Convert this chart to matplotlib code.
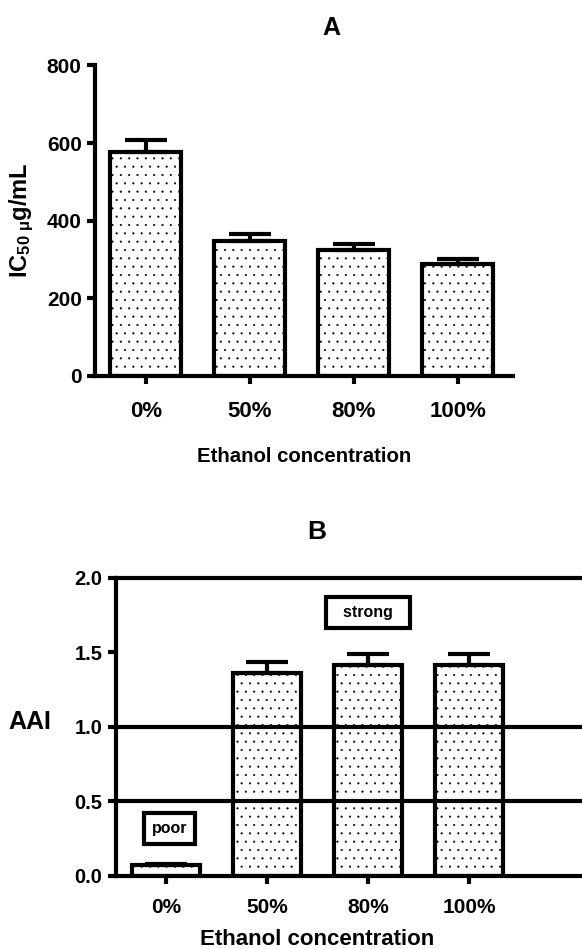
import matplotlib
matplotlib.use("Agg")
import matplotlib.pyplot as plt

plt.rcParams['font.family'] = ['Liberation Sans', 'DejaVu Sans']
plt.rcParams['font.weight'] = 'bold'
plt.rcParams['mathtext.fontset'] = 'custom'
plt.rcParams['mathtext.rm'] = 'Liberation Sans:bold'
plt.rcParams['mathtext.it'] = 'Liberation Sans:bold'
plt.rcParams['mathtext.bf'] = 'Liberation Sans:bold'
plt.rcParams['hatch.linewidth'] = 0.3

# data
categories = ['0%', '50%', '80%', '100%']
ic50 = [578, 347, 325, 287]
ic50_err = [30, 18, 15, 14]
aai = [0.075, 1.362, 1.416, 1.416]
aai_err = [0.006, 0.074, 0.074, 0.074]
ic50_ticks = [0, 200, 400, 600, 800]
aai_ticks = [0.0, 0.5, 1.0, 1.5, 2.0]
aai_lines = [0.5, 1.0, 2.0]

lw = 3
fig = plt.figure(figsize=(5.82, 9.49), dpi=100)
x = list(range(len(categories)))


def style_axis(ax):
    for s in ['top', 'right']:
        ax.spines[s].set_visible(False)
    for s in ['left', 'bottom']:
        ax.spines[s].set_linewidth(lw)
    ax.tick_params(direction='out', length=6, width=lw)


# ---- panel A ----
axA = fig.add_axes([0.163, 0.604, 0.718, 0.327])
axA.bar(x, ic50, width=0.68, color='white', edgecolor='black',
        linewidth=lw, hatch='..', zorder=2)
axA.errorbar(x, ic50, yerr=[[0] * 4, ic50_err], fmt='none', ecolor='black',
             elinewidth=lw, capsize=15, capthick=lw, zorder=3)
axA.set_xlim(-0.49, 3.53)
axA.set_ylim(0, 800)
axA.set_yticks(ic50_ticks)
axA.set_xticks(x)
axA.set_xticklabels(categories, fontsize=16, fontweight='bold')
axA.tick_params(axis='y', labelsize=15)
axA.tick_params(axis='x', pad=12)
style_axis(axA)
axA.set_title('A', fontsize=18, fontweight='bold', pad=22, x=0.565)
axA.set_xlabel('Ethanol concentration', fontsize=14.7, fontweight='bold', labelpad=18)
axA.set_ylabel(r'IC$_{50\ \mu}$g/mL', fontsize=17, fontweight='bold', labelpad=8)

# ---- panel B ----
axB = fig.add_axes([0.199, 0.077, 0.801, 0.314])
axB.bar(x, aai, width=0.67, color='white', edgecolor='black',
        linewidth=lw, hatch='..', zorder=2)
axB.errorbar(x, aai, yerr=[[0] * 4, aai_err], fmt='none', ecolor='black',
             elinewidth=lw, capsize=15, capthick=lw, zorder=3)
for yv in aai_lines:
    axB.axhline(yv, color='black', linewidth=lw, zorder=4, clip_on=False)
axB.set_xlim(-0.5, 4.12)
axB.set_ylim(0, 2.0)
axB.set_yticks(aai_ticks)
axB.set_yticklabels(['%.1f' % t for t in aai_ticks])
axB.set_xticks(x)
axB.set_xticklabels(categories, fontsize=15, fontweight='bold')
axB.tick_params(axis='y', labelsize=14.5)
axB.tick_params(axis='x', pad=10)
style_axis(axB)
axB.set_title('B', fontsize=19, fontweight='bold', pad=28, x=0.431)
axB.set_xlabel('Ethanol concentration', fontsize=16, fontweight='bold')
axB.xaxis.set_label_coords(0.431, -0.215)
axB.xaxis.label.set_va('center')
axB.set_ylabel('AAI', fontsize=18, fontweight='bold', rotation=0, va='center')
axB.yaxis.set_label_coords(-0.185, 0.515)

box = dict(boxstyle='square,pad=0.5', facecolor='white', edgecolor='black', linewidth=lw)
axB.text(2.0, 1.765, '  strong  ', fontsize=11.5, fontweight='bold', ha='center', va='center', bbox=box, zorder=5)
axB.text(0.03, 0.32, 'poor', fontsize=11.5, fontweight='bold', ha='center', va='center', bbox=box, zorder=5)

fig.savefig('out.png', dpi=100)
